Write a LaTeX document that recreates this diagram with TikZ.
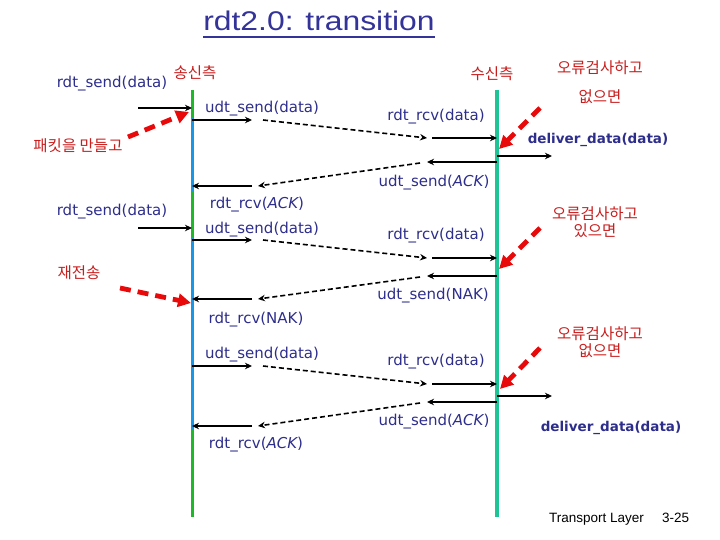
\documentclass[tikz,border=0pt]{standalone}
\usepackage{fontspec}
\usetikzlibrary{arrows.meta}
\setmainfont{Liberation Sans}
\newfontfamily\lblfont{DejaVu Sans}
\newfontfamily\krfont{Noto Sans CJK KR}
\definecolor{lblue}{RGB}{45,45,140}
\definecolor{tblue}{RGB}{51,51,153}
\definecolor{kred}{RGB}{200,30,30}
\definecolor{ared}{RGB}{232,10,10}
\definecolor{sgreen}{RGB}{30,185,40}
\definecolor{sblue}{RGB}{25,150,230}
\definecolor{rteal}{RGB}{30,195,150}
\begin{document}
\begin{tikzpicture}[x=1pt,y=-1pt,
  lab/.style={font=\lblfont\fontsize{15}{18}\selectfont, text=lblue, inner sep=0pt},
  blab/.style={font=\lblfont\bfseries\fontsize{13.5}{16}\selectfont, text=lblue, inner sep=0pt},
  krlab/.style={font=\krfont\fontsize{15.5}{20}\selectfont, text=kred, inner sep=0pt, align=center},
  msg/.style={line width=1.8pt, -{Stealth[length=7pt,width=6.5pt]}},
  wire/.style={line width=1.6pt, dash pattern=on 5pt off 3pt, -{Stealth[length=7pt,width=6.5pt]}},
  redarr/.style={draw=ared, line width=4.8pt, dash pattern=on 11pt off 7pt, -{Triangle[length=13pt,width=13pt]}},
  sline/.style={line width=3pt},
  rline/.style={line width=4pt, draw=rteal}]
\useasboundingbox (0,0) rectangle (720,540);

% title
\node[anchor=base, font=\fontsize{27}{32}\selectfont, text=tblue, inner sep=0pt] (title) at (319,31) {\scalebox{1.18}[1]{rdt2.0: transition}};
\draw[tblue, line width=2.5pt] ([yshift=-6pt]title.base west) -- ([yshift=-6pt]title.base east);

% lifelines
\coordinate (s0) at (192,90);  \coordinate (s1) at (192,118);
\coordinate (s2) at (192,192); \coordinate (s3) at (192,238);
\coordinate (s4) at (192,430); \coordinate (s5) at (192,517);
\draw[sline, sgreen] (s0) -- (s1);
\draw[sline, sblue] (s1) -- (s2);
\draw[sline, sgreen] (s2) -- (s3);
\draw[sline, sblue] (s3) -- (s4);
\draw[sline, sgreen] (s4) -- (s5);
\coordinate (r0) at (497,90); \coordinate (r1) at (497,517);
\draw[rline] (r0) -- (r1);

% labels
\node[lab] (rs1) at (112,84) {rdt\_send(data)};
\node[krlab] (snd) at (195,73) {송신측};
\node[lab] (us1) at (262,109) {udt\_send(data)};
\node[krlab] (rcv) at (492,74) {수신측};
\node[krlab] (ok1a) at (600,68) {오류검사하고};
\node[krlab] (ok1b) at (600,97) {없으면};
\node[lab] (rr1) at (436,117) {rdt\_rcv(data)};
\node[blab] (dd1) at (598,140) {deliver\_data(data)};
\node[krlab] (mk) at (78,146) {패킷을 만들고};
\node[lab] (ua1) at (434,183) {udt\_send({\itshape ACK})};
\node[lab] (ra1) at (257,205) {rdt\_rcv({\itshape ACK})};
\node[lab] (rs2) at (112,212) {rdt\_send(data)};
\node[lab] (us2) at (262,230) {udt\_send(data)};
\node[lab] (rr2) at (436,236) {rdt\_rcv(data)};
\node[krlab] (er2) at (595,222) {오류검사하고\\[-3pt]있으면};
\node[krlab] (rt) at (79,273) {재전송};
\node[lab] (un1) at (433,296) {udt\_send(NAK)};
\node[lab] (rn1) at (256,320) {rdt\_rcv(NAK)};
\node[lab] (us3) at (262,355) {udt\_send(data)};
\node[lab] (rr3) at (436,362) {rdt\_rcv(data)};
\node[krlab] (ok3) at (600,342) {오류검사하고\\[-3pt]없으면};
\node[lab] (ua2) at (434,422) {udt\_send({\itshape ACK})};
\node[lab] (ra2) at (256,445) {rdt\_rcv({\itshape ACK})};
\node[blab] (dd2) at (611,428) {deliver\_data(data)};
\node[anchor=base west, font=\fontsize{13.5}{16}\selectfont, inner sep=0pt] (tl) at (549,522) {Transport Layer};
\node[anchor=base west, font=\fontsize{13.5}{16}\selectfont, inner sep=0pt] (pg) at (662,522) {3-25};

% app calls into sender
\foreach \n/\y in {a1/108, a2/228} {
  \coordinate (\n s) at (138,\y); \coordinate (\n e) at (192,\y);
  \draw[msg] (\n s) -- (\n e);
}
% deliver_data
\foreach \n/\y in {dl1/156, dl2/396} {
  \coordinate (\n s) at (497,\y); \coordinate (\n e) at (552,\y);
  \draw[msg] (\n s) -- (\n e);
}
% data packets sender -> receiver
\foreach \n/\ya/\yb in {d1/120/138, d2/240/258, d3/366/384} {
  \coordinate (\n a) at (192,\ya); \coordinate (\n b) at (252,\ya);
  \coordinate (\n c) at (263,\ya); \coordinate (\n d) at (427,\yb);
  \coordinate (\n e) at (432,\yb); \coordinate (\n f) at (497,\yb);
  \draw[msg] (\n a) -- (\n b);
  \draw[wire] (\n c) -- (\n d);
  \draw[msg] (\n e) -- (\n f);
}
% replies receiver -> sender
\foreach \n/\ya/\yb in {k1/162/186, k2/276/299, k3/402/426} {
  \coordinate (\n a) at (497,\ya); \coordinate (\n b) at (427,\ya);
  \coordinate (\n c) at (420,\ya+1); \coordinate (\n d) at (258,\yb);
  \coordinate (\n e) at (252,\yb); \coordinate (\n f) at (192,\yb);
  \draw[msg] (\n a) -- (\n b);
  \draw[wire] (\n c) -- (\n d);
  \draw[msg] (\n e) -- (\n f);
}

% red pointers
\coordinate (p1s) at (128,137); \coordinate (p1e) at (189,112);
\coordinate (p2s) at (120,288); \coordinate (p2e) at (191,303);
\coordinate (p3s) at (540,108); \coordinate (p3e) at (499,149);
\coordinate (p4s) at (540,228); \coordinate (p4e) at (499,269);
\coordinate (p5s) at (540,348); \coordinate (p5e) at (500,389);
\draw[redarr] (p1s) -- (p1e);
\draw[redarr] (p2s) -- (p2e);
\draw[redarr] (p3s) -- (p3e);
\draw[redarr] (p4s) -- (p4e);
\draw[redarr] (p5s) -- (p5e);
\end{tikzpicture}
\end{document}
